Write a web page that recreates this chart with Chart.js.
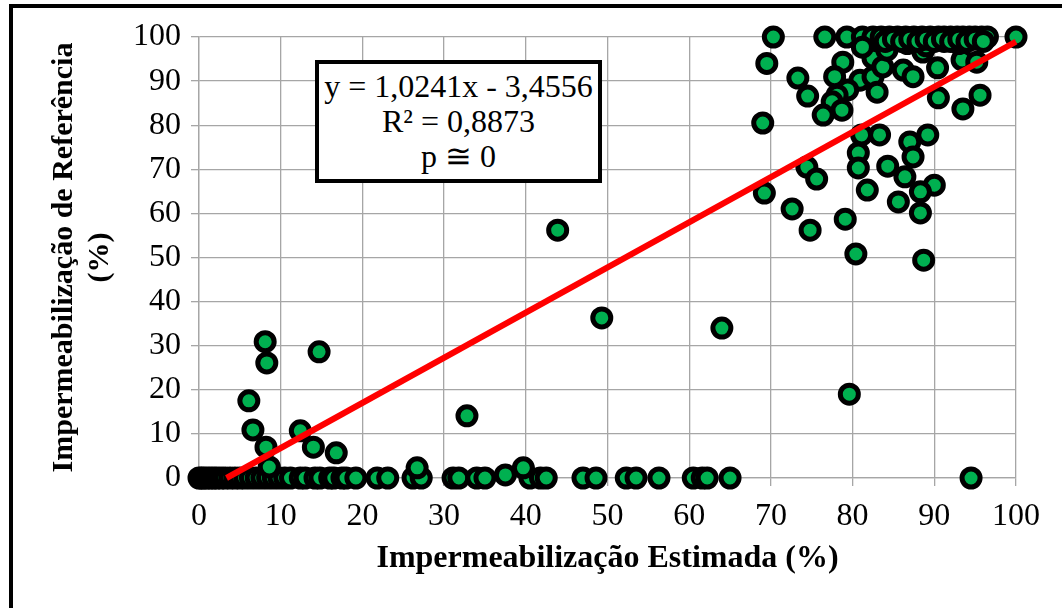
<!DOCTYPE html>
<html>
<head>
<meta charset="utf-8">
<script src="https://cdn.jsdelivr.net/npm/chart.js@4.4.1/dist/chart.umd.min.js"></script>
<style>
  html, body { margin: 0; padding: 0; background: #fff; overflow: hidden; }
  #wrap { position: relative; width: 1062px; height: 608px; overflow: hidden; }
  #frame { position: absolute; left: 9px; top: 4px; width: 1200px; height: 800px; border: 4px solid #000; box-sizing: border-box; }
  canvas { position: absolute; left: 0; top: 0; }
  #eq { position: absolute; left: 315px; top: 60px; width: 287px; height: 123px; box-sizing: border-box;
        border: 4px solid #000; background: #fff; font-family: 'Liberation Serif', serif; font-size: 32px;
        line-height: 35px; text-align: center; padding-top: 5px; color: #000; white-space: nowrap; }
</style>
</head>
<body>
<div id="wrap">
  <div id="frame"></div>
  <canvas id="c" width="1062" height="608"></canvas>
  <div id="eq"><div>y = 1,0241x - 3,4556</div><div>R² = 0,8873</div><div>p ≅ 0</div></div>
</div>
<script>
// Estimated imperviousness (x, %) and reference imperviousness (y, %)
const estimada = [
  0, 0.3, 0.6, 1, 1.4, 1.8, 2.2, 2.7, 3.2, 3.8, 4.4, 5, 5.6, 6.3, 7, 7.7, 8.4, 9.1, 9.8, 10.5,
  11.2, 12.4, 13, 14.2, 14.8, 16, 16.5, 17.5, 18, 19.2, 21.8, 23.1, 26.2, 27.2, 31.1, 31.8, 34.0, 35,
  40.5, 41.8, 42.5, 47.0, 48.6, 52.3, 53.5, 56.3, 60.5, 61.6, 62.2, 65.0, 94.5,
  26.7, 39.7, 37.5, 8.6,
  8.1, 8.3, 14.7, 6.1, 6.6, 8.2, 12.4, 14, 16.8, 32.8, 43.9, 49.3, 64, 79.6,
  70.3, 76.6, 79.3, 81.2, 82.5, 83.5, 84.5, 85.5, 86.5, 87.5, 88.5, 89.5, 90.5, 91.2, 92, 92.8, 93.5, 94.3, 95, 95.8, 96.5, 100,
  69.5, 73.3, 74.5, 69, 78.8, 77.8, 80.9, 82.5, 82.5, 81.2, 79.4, 78.1, 77.5, 76.4, 78.7, 83, 86.2, 87.4, 88.6, 90.4,
  93.4, 95.2, 90.5, 93.5, 95.6, 81.1, 83.3, 80.7, 80.7, 84.3, 87, 89.2, 87.4, 74.4, 75.6, 86.4, 90,
  69.2, 72.6, 74.8, 79.1, 80.4, 81.8, 85.6, 88.3, 88.3, 88.7, 83.7, 86.7, 84.2, 91.2, 89, 93,
  84, 85, 86, 87, 88, 89, 90, 91, 92, 93, 94, 95, 96
];
const referencia = [
  0, 0, 0, 0, 0, 0, 0, 0, 0, 0, 0, 0, 0, 0, 0, 0, 0, 0, 0, 0,
  0, 0, 0, 0, 0, 0, 0, 0, 0, 0, 0, 0, 0, 0, 0, 0, 0, 0,
  0, 0, 0, 0, 0, 0, 0, 0, 0, 0, 0, 0, 0,
  2.3, 2.3, 0.7, 2.5,
  30.9, 26.1, 28.6, 17.5, 10.9, 7.0, 10.7, 7, 5.7, 14.1, 56.2, 36.3, 34, 19,
  100, 100, 100, 100, 100, 100, 100, 100, 100, 100, 100, 100, 100, 100, 100, 100, 100, 100, 100, 100, 100, 100,
  94, 90.7, 86.6, 80.5, 94.3, 91, 90.2, 91, 95.2, 97.7, 88, 86.8, 85.3, 82.3, 83.4, 87.5, 92.5, 91, 96.6, 93,
  94.8, 94.3, 86.2, 83.7, 86.8, 77.8, 77.8, 73.7, 70.3, 70.7, 76.2, 77.8, 72.8, 70.5, 67.8, 68.3, 66.4,
  64.6, 61, 56.2, 58.7, 50.8, 65.3, 62.6, 64.9, 60.1, 49.4, 93.2, 98.5, 97, 99, 98, 98.5,
  99, 99.5, 99, 99.5, 99, 99.5, 99, 99.5, 99, 99.5, 99, 99.5, 99
];
// Linear trendline endpoints (y = 1,0241x - 3,4556, clipped at y = 0)
const trendX = [3.37, 100];
const trendY = [0, 98.95];
const tickValues = [0, 10, 20, 30, 40, 50, 60, 70, 80, 90, 100];

const points = estimada.map((x, i) => ({ x: x, y: referencia[i] }));
const trend = trendX.map((x, i) => ({ x: x, y: trendY[i] }));

const serif = 'Liberation Serif';
const gridColor = '#A6A6A6';

new Chart(document.getElementById('c'), {
  type: 'scatter',
  data: {
    datasets: [
      { type: 'line', data: trend, borderColor: '#FF0000', borderWidth: 6, pointRadius: 0, fill: false, order: 0, clip: false },
      { data: points, backgroundColor: '#00B050', borderColor: '#000000', borderWidth: 5, pointRadius: 9, order: 1, clip: false }
    ]
  },
  options: {
    responsive: false,
    animation: false,
    devicePixelRatio: 1,
    layout: { autoPadding: false, padding: { top: 37, right: 46, left: 0, bottom: 0 } },
    plugins: { legend: { display: false }, tooltip: { enabled: false } },
    scales: {
      x: {
        type: 'linear', min: 0, max: 100,
        afterFit: (s) => { s.height = 130; },
        afterBuildTicks: (s) => { s.ticks = tickValues.map(v => ({ value: v })); },
        ticks: { font: { family: serif, size: 32 }, color: '#000', padding: 11, maxRotation: 0 },
        grid: { color: gridColor, lineWidth: 1.3, tickLength: 8, tickColor: gridColor },
        border: { color: gridColor, width: 1.3 },
        title: { display: true, text: 'Impermeabilização Estimada (%)', color: '#000',
                 font: { family: serif, size: 32, weight: 'bold' }, padding: { bottom: 30, top: 0 } }
      },
      y: {
        type: 'linear', min: 0, max: 100,
        afterFit: (s) => { s.width = 199; },
        afterBuildTicks: (s) => { s.ticks = tickValues.map(v => ({ value: v })); },
        ticks: { font: { family: serif, size: 32 }, color: '#000', padding: 10 },
        grid: { color: gridColor, lineWidth: 1.3, tickLength: 8, tickColor: gridColor },
        border: { color: gridColor, width: 1.3 },
        title: { display: true, text: ['Impermeabilização de Referência', '(%)'], color: '#000',
                 font: { family: serif, size: 30, weight: 'bold', lineHeight: 1.2 }, padding: { top: 46, bottom: 0 } }
      }
    }
  }
});
</script>
</body>
</html>
